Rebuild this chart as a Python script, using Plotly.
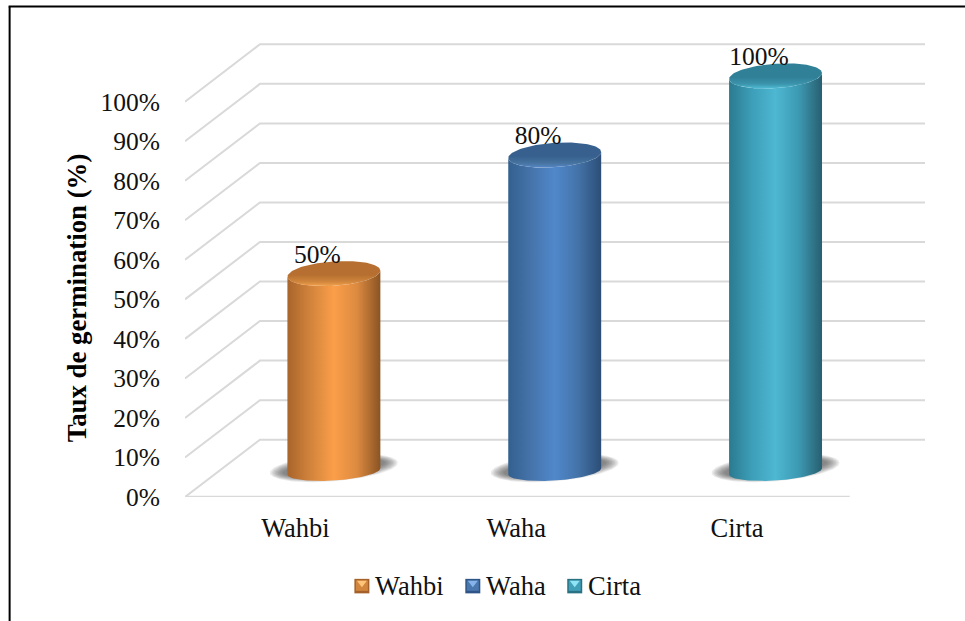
import numpy as np
import plotly.graph_objects as go

# Germination rate per variety
varieties = ["Wahbi", "Waha", "Cirta"]
germination = [50, 80, 100]
y_ticks = list(range(0, 101, 10))
y_title = "Taux de germination (%)"

# Body shading left to right, lid colours (rim, lid), legend swatch colours
body_shades = [
    ["#a9642b", "#d2843c", "#fb9e49", "#dc8a40", "#8a5424"],
    ["#33608f", "#4674ab", "#5088cb", "#4473a9", "#2c4e77"],
    ["#2a7a90", "#3d9fb9", "#4eb7d2", "#3c99b2", "#285f70"],
]
lid_shades = [
    ["#f2a04d", "#cf853c", "#b66f30", "#b66f30"],
    ["#5587c6", "#46739f", "#37608f", "#37608f"],
    ["#50bcd6", "#3b94ac", "#308097", "#308097"],
]
swatch_shades = [
    ["#a4622a", "#d2853d", "#ffc47a"],
    ["#2f5587", "#4a77ae", "#86b4ea"],
    ["#2a7184", "#41a0b8", "#8fe4f5"],
]

FONT = "Liberation Serif"
GRID = "#d9d9d9"
W, H = 965, 621
L, R, T, B = 184.5, 925.0, 40.0, 496.7
X_MAX = 2.851
Y_MAX = 115.6
PX_X = (R - L) / (X_MAX + 0.5)
PX_Y = (B - T) / Y_MAX

# Receding floor and wall: depth offset in axis units
DEPTH_X = 75 / PX_X
DEPTH_Y = 57.3 / PX_Y
CYL_SHIFT = 38.5 / PX_X
CYL_A = 46.5 / PX_X
CYL_BASE = 25.7 / PX_Y
TILT = 3.0 / PX_Y
RY_TOP = 12.2 / PX_Y
RY_BASE = 9.2 / PX_Y


def scale(colors):
    return [[i / (len(colors) - 1), c] for i, c in enumerate(colors)]


def ellipse(cx, cy, a, ry, tilt, t):
    return cx + a * np.cos(t), cy + tilt * np.cos(t) + ry * np.sin(t)


fig = go.Figure()

# Wall and floor grid
for v in y_ticks:
    xs = [-0.5, -0.5 + DEPTH_X, X_MAX]
    ys = [v, v + DEPTH_Y, v + DEPTH_Y]
    fig.add_trace(go.Scatter(x=xs, y=ys, mode="lines", cliponaxis=False, hoverinfo="skip",
                             line=dict(color=GRID, width=2), showlegend=False))
fig.add_trace(go.Scatter(x=[-0.5, 2.51], y=[0, 0], mode="lines", cliponaxis=False, hoverinfo="skip",
                         line=dict(color=GRID, width=2.5), showlegend=False))

# Cylinders
for i, (name, v) in enumerate(zip(varieties, germination)):
    cx = i + CYL_SHIFT
    t_full = np.linspace(0, 2 * np.pi, 121)

    # soft contact shadow, built from stacked translucent ellipses
    for k in range(9):
        grow = k / 8
        sx, sy = ellipse(cx, CYL_BASE + 3.5 / PX_Y, (64 - 13 * grow) / PX_X, (13.5 - 6 * grow) / PX_Y,
                         5 / PX_Y, t_full)
        fig.add_trace(go.Scatter(x=sx, y=sy, mode="lines", fill="toself", cliponaxis=False,
                                 line=dict(width=0), hoverinfo="skip", showlegend=False,
                                 fillcolor="rgba(70,70,70,0.11)"))

    # body: lower arc of the base, then back along the lower arc of the lid
    t_low = np.linspace(0, np.pi, 61)
    bx, by = ellipse(cx, CYL_BASE, CYL_A, -RY_BASE, TILT, t_low)
    tx, ty = ellipse(cx, v + CYL_BASE, CYL_A, -RY_TOP, TILT, t_low[::-1])
    fig.add_trace(go.Scatter(x=np.r_[bx, tx], y=np.r_[by, ty], mode="lines", fill="toself",
                             line=dict(width=0), hoverinfo="skip", showlegend=False, name=name,
                             fillgradient=dict(type="horizontal", colorscale=scale(body_shades[i]))))

    # lid
    lx, ly = ellipse(cx, v + CYL_BASE, CYL_A, RY_TOP, TILT, t_full)
    shades = lid_shades[i]
    fig.add_trace(go.Scatter(x=lx, y=ly, mode="lines", fill="toself",
                             line=dict(width=0), hoverinfo="skip", showlegend=False,
                             fillgradient=dict(type="vertical", colorscale=[
                                 [0, shades[0]], [0.18, shades[1]], [0.45, shades[2]], [1, shades[3]]])))

# Value labels sit above each lid, shifted toward the back-left corner
fig.add_trace(go.Scatter(
    x=[i + 22 / PX_X for i in range(len(varieties))],
    y=[v + CYL_BASE + 17 / PX_Y for v in germination],
    text=[f"{v}%" for v in germination],
    mode="text", textposition="middle center", cliponaxis=False,
    textfont=dict(family=FONT, size=25.5, color="#111111"),
    hoverinfo="skip", showlegend=False))


def px(x):
    return (x - L) / (R - L)


def py(y):
    return (B - y) / (B - T)


shapes = [
    dict(type="line", xref="paper", yref="paper", x0=px(9), x1=px(9), y0=py(621), y1=py(6.5),
         line=dict(color="black", width=2)),
    dict(type="line", xref="paper", yref="paper", x0=px(8), x1=px(965), y0=py(6.5), y1=py(6.5),
         line=dict(color="black", width=2)),
]


def poly(points, color):
    path = "M " + " L ".join(f"{px(a):.5f},{py(b):.5f}" for a, b in points) + " Z"
    return dict(type="path", xref="paper", yref="paper", path=path, fillcolor=color,
                line=dict(width=0), layer="above")


# Hand-built legend with bevelled swatches
annotations = []
legend_swatch_x = [354, 465, 567]
legend_text_x = [372.5, 483.5, 585.5]
for name, sx0, tx0, (edge, mid, light) in zip(varieties, legend_swatch_x, legend_text_x, swatch_shades):
    x0, x1, y0, y1 = sx0, sx0 + 15, 578.5, 593
    shapes.append(poly([(x0, y0), (x1, y0), (x1, y1), (x0, y1)], edge))
    shapes.append(poly([(x0 + 1.5, y0 + 1.5), (x1 - 1.5, y0 + 1.5), (x1 - 1.5, y1 - 2.5), (x0 + 1.5, y1 - 2.5)], mid))
    shapes.append(poly([(x0 + 2.5, y0 + 2), (x1 - 2.5, y0 + 2), ((x0 + x1) / 2, y0 + 8.5)], light))
    annotations.append(dict(text=name, xref="paper", yref="paper", x=px(tx0), y=py(585.5),
                            xanchor="left", yanchor="middle", showarrow=False,
                            font=dict(family=FONT, size=26.5, color="#111111")))

annotations.append(dict(text=f"<b>{y_title}</b>", xref="paper", yref="paper", x=px(76.5), y=py(298),
                        xanchor="center", yanchor="middle", textangle=-90, showarrow=False,
                        font=dict(family=FONT, size=26.8, color="black")))

fig.update_layout(
    width=W, height=H,
    margin=dict(l=L, r=W - R, t=T, b=H - B, autoexpand=False),
    paper_bgcolor="white", plot_bgcolor="white",
    showlegend=False,
    shapes=shapes, annotations=annotations,
    xaxis=dict(range=[-0.5, X_MAX], tickmode="array", tickvals=list(range(len(varieties))),
               ticktext=varieties, showgrid=False, zeroline=False, showline=False,
               ticks="outside", ticklen=7, tickcolor="rgba(0,0,0,0)",
               tickfont=dict(family=FONT, size=26.5, color="#111111")),
    yaxis=dict(range=[0, Y_MAX], tickmode="array", tickvals=y_ticks,
               ticktext=[f"{v}%" for v in y_ticks], showgrid=False, zeroline=False, showline=False,
               ticks="outside", ticklen=19, tickcolor="rgba(0,0,0,0)",
               tickfont=dict(family=FONT, size=25.5, color="#111111")),
)

fig.write_html("out.html", config=dict(displayModeBar=False))
